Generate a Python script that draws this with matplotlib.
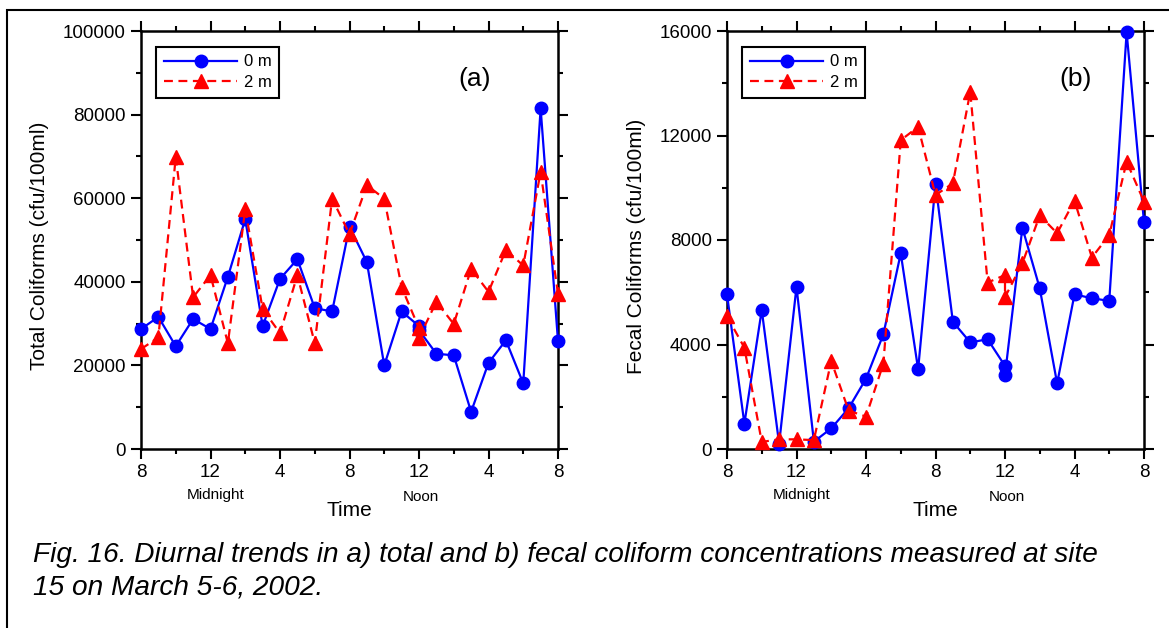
import matplotlib
matplotlib.use("Agg")
import matplotlib.pyplot as plt
from matplotlib.patches import Rectangle
from matplotlib.ticker import MultipleLocator
import matplotlib.transforms as mtransforms

plt.rcParams['font.family'] = ['Liberation Sans', 'DejaVu Sans']

# hours after 8 pm; two samples were taken at noon (hour 16)
hours = list(range(0, 17)) + [16] + list(range(17, 25))

total_0m = [28700, 31600, 24600, 31100, 28700, 41200, 55000, 29400, 40700,
            45400, 33700, 32900, 53200, 44700, 20000, 32900, 29400, 28400,
            22800, 22400, 8900, 20600, 26000, 15700, 81500, 25800]
total_2m = [23900, 26700, 69900, 36300, 41600, 25300, 57400, 33500, 27700,
            41600, 25300, 59900, 51400, 63100, 59900, 38700, 28900, 26600,
            35200, 29900, 43100, 37600, 47600, 43900, 66300, 37100]

fecal_0m = [5920, 970, 5320, 200, 6210, 280, 790, 1560, 2690, 4390, 7490,
            3050, 10140, 4870, 4080, 4200, 3180, 2830, 8470, 6150, 2510,
            5920, 5770, 5670, 15950, 8680]
fecal_2m = [5080, 3880, 270, 370, 370, 340, 3370, 1470, 1240, 3270, 11820,
            12330, 9720, 10170, 13670, 6370, 6660, 5810, 7110, 8940, 8260,
            9510, 7330, 8190, 11000, 9470]

xtick_pos = [0, 4, 8, 12, 16, 20, 24]
xtick_labels = ['8', '12', '4', '8', '12', '4', '8']

W, H = 1169, 628
fig = plt.figure(figsize=(W / 100, H / 100), dpi=100)

# outer frame of the figure box (open on the right and bottom)
fig.patches.append(Rectangle((7 / W, -0.5), 2.0, 1.5 - 10 / H,
                             transform=fig.transFigure, fill=False,
                             edgecolor='black', linewidth=1.5))


def draw_panel(left_px, y0, y2, ymax, ystep, yminor, ylabel, ylabel_x, tag, tag_x):
    ax = fig.add_axes([left_px / W, 1 - 449 / H, 417 / W, 418 / H])
    ax.plot(hours, y0, color='#0000ff', linestyle='-', linewidth=1.6,
            marker='o', markersize=9, label='0 m', clip_on=False, zorder=3)
    ax.plot(hours, y2, color='#ff0000', linestyle=(0, (4, 2.5)), linewidth=1.6,
            marker='^', markersize=10, label='2 m', clip_on=False, zorder=4)
    ax.set_xlim(0, 24)
    ax.set_ylim(0, ymax)
    ax.set_xticks(xtick_pos)
    ax.set_xticklabels(xtick_labels)
    ax.xaxis.set_minor_locator(MultipleLocator(2))
    ax.yaxis.set_major_locator(MultipleLocator(ystep))
    ax.yaxis.set_minor_locator(MultipleLocator(yminor))
    ax.tick_params(which='both', direction='out', top=True, right=True,
                   width=1.5, labelsize=13.5, pad=4)
    ax.tick_params(which='major', length=7)
    ax.tick_params(which='minor', length=3.5)
    for s in ax.spines.values():
        s.set_linewidth(1.8)

    trans = mtransforms.blended_transform_factory(ax.transData, ax.transAxes)
    ax.text(4.3, -0.11, 'Midnight', transform=trans, ha='center', va='center', fontsize=11)
    ax.text(16.1, -0.114, 'Noon', transform=trans, ha='center', va='center', fontsize=11)
    ax.text(12, -0.146, 'Time', transform=trans, ha='center', va='center', fontsize=15)
    fig.text(ylabel_x / W, 1 - 246 / H, ylabel, rotation=90, ha='center',
             va='center', fontsize=15)
    ax.text(tag_x, 0.884, tag, transform=ax.transAxes, ha='center', va='center', fontsize=19)

    leg = ax.legend(loc='upper left', bbox_to_anchor=(0.037, 0.962), fontsize=12,
                    handlelength=4.4, handletextpad=0.4, borderpad=0.45,
                    labelspacing=0.35, fancybox=False, framealpha=1,
                    edgecolor='black', borderaxespad=0)
    leg.get_frame().set_linewidth(1.5)
    return ax


draw_panel(141, total_0m, total_2m, 100000, 20000, 10000,
           'Total Coliforms (cfu/100ml)', 40, '(a)', 0.8)
draw_panel(727, fecal_0m, fecal_2m, 16000, 4000, 2000,
           'Fecal Coliforms (cfu/100ml)', 636, '(b)', 0.835)

fig.text(33 / W, 1 - 555 / H,
         'Fig. 16. Diurnal trends in a) total and b) fecal coliform concentrations measured at site',
         fontsize=20.2, style='italic', va='center', ha='left')
fig.text(33 / W, 1 - 588 / H, '15 on March 5-6, 2002.',
         fontsize=20.2, style='italic', va='center', ha='left')

fig.savefig('out.png', dpi=100)
